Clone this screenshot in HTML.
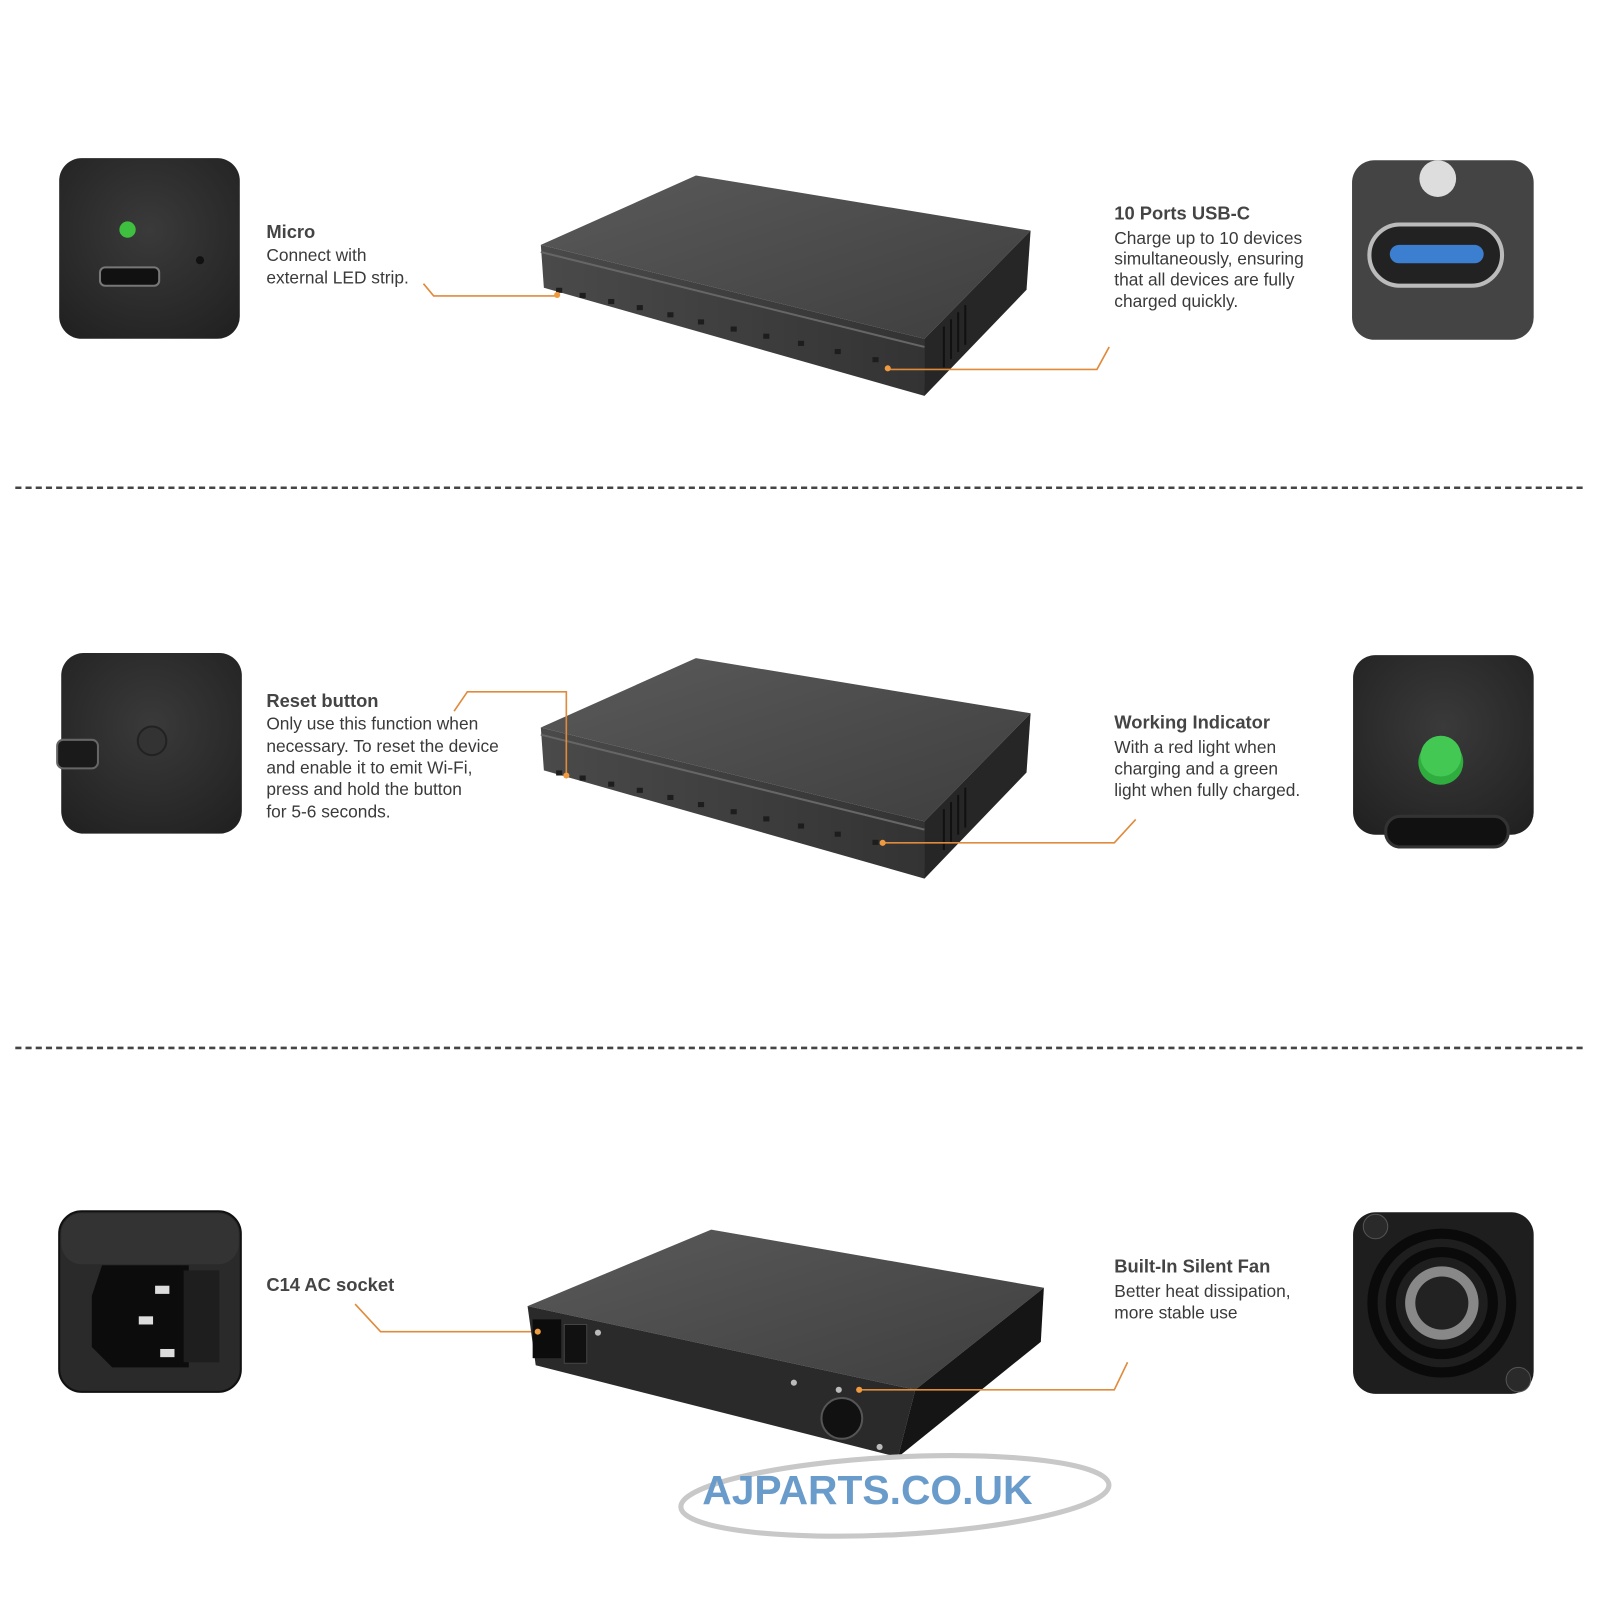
<!DOCTYPE html>
<html><head><meta charset="utf-8"><style>
html,body{margin:0;padding:0;background:#fff;}
svg{display:block}
text{font-family:"Liberation Sans",sans-serif;fill:#3a3a3a;}
.t{font-size:18px;font-weight:bold;fill:#444}
.b{font-size:17px;}
</style></head><body>
<svg width="1600" height="1600" viewBox="0 0 1568 1568" xmlns="http://www.w3.org/2000/svg">
<defs>
<linearGradient id="top" x1="0" y1="0" x2="1" y2="1"><stop offset="0" stop-color="#5a5a5a"/><stop offset="1" stop-color="#3e3e3e"/></linearGradient>
<linearGradient id="front" x1="0" y1="0" x2="1" y2="0"><stop offset="0" stop-color="#4a4a4a"/><stop offset="1" stop-color="#333"/></linearGradient>
<radialGradient id="th" cx="0.5" cy="0.4" r="0.7"><stop offset="0" stop-color="#3a3a3a"/><stop offset="1" stop-color="#222"/></radialGradient>
<g id="dev">
<polygon points="530,240 682,172 1010,226 906,332" fill="url(#top)"/>
<polygon points="530,240 906,332 906,388 533,282" fill="url(#front)"/>
<polygon points="906,332 1010,226 1006,284 906,388" fill="#262626"/>
<line x1="530" y1="247" x2="906" y2="340" stroke="#666" stroke-width="2"/>
<g fill="#1d1d1d">
<rect x="545" y="282" width="6" height="5"/><rect x="568" y="287" width="6" height="5"/><rect x="596" y="293" width="6" height="5"/><rect x="624" y="299" width="6" height="5"/><rect x="654" y="306" width="6" height="5"/><rect x="684" y="313" width="6" height="5"/><rect x="716" y="320" width="6" height="5"/><rect x="748" y="327" width="6" height="5"/><rect x="782" y="334" width="6" height="5"/><rect x="818" y="342" width="6" height="5"/><rect x="855" y="350" width="6" height="5"/>
</g>
<g stroke="#111" stroke-width="2"><line x1="925" y1="320" x2="925" y2="360"/><line x1="932" y1="313" x2="932" y2="352"/><line x1="939" y1="306" x2="939" y2="345"/><line x1="946" y1="299" x2="946" y2="338"/></g>
</g>
</defs>

<!-- Section 1 -->
<rect x="58" y="155" width="177" height="177" rx="22" fill="url(#th)"/>
<circle cx="125" cy="225" r="8" fill="#3fbf3f"/>
<rect x="98" y="262" width="58" height="18" rx="5" fill="#111" stroke="#777" stroke-width="2"/>
<circle cx="196" cy="255" r="4" fill="#111"/>
<text class="t" x="261" y="233">Micro</text>
<text class="b" x="261" y="256">Connect with</text>
<text class="b" x="261" y="278">external LED strip.</text>
<use href="#dev"/>
<polyline points="415,278 425,290 545,290" fill="none" stroke="#e08a3c" stroke-width="1.6"/>
<circle cx="546" cy="289" r="3" fill="#f09a40"/>
<polyline points="870,362 1075,362 1087,340" fill="none" stroke="#e08a3c" stroke-width="1.6"/>
<circle cx="870" cy="361" r="3" fill="#f09a40"/>
<text class="t" x="1092" y="215">10 Ports USB-C</text>
<text class="b" x="1092" y="239">Charge up to 10 devices</text>
<text class="b" x="1092" y="259">simultaneously, ensuring</text>
<text class="b" x="1092" y="280">that all devices are fully</text>
<text class="b" x="1092" y="301">charged quickly.</text>
<rect x="1325" y="157" width="178" height="176" rx="22" fill="#444"/>
<circle cx="1409" cy="175" r="18" fill="#ddd"/>
<rect x="1342" y="220" width="130" height="60" rx="30" fill="#222" stroke="#bbb" stroke-width="4"/>
<rect x="1362" y="240" width="92" height="18" rx="9" fill="#3c7fd0"/>

<line x1="15" y1="478" x2="1553" y2="478" stroke="#444" stroke-width="2.5" stroke-dasharray="6,4"/>

<!-- Section 2 -->
<rect x="60" y="640" width="177" height="177" rx="22" fill="url(#th)"/>
<rect x="56" y="725" width="40" height="28" rx="6" fill="#1a1a1a" stroke="#666" stroke-width="2"/>
<circle cx="149" cy="726" r="14" fill="#333" stroke="#222" stroke-width="2"/>
<text class="t" x="261" y="693">Reset button</text>
<text class="b" x="261" y="715">Only use this function when</text>
<text class="b" x="261" y="737">necessary. To reset the device</text>
<text class="b" x="261" y="758">and enable it to emit Wi-Fi,</text>
<text class="b" x="261" y="779">press and hold the button</text>
<text class="b" x="261" y="801">for 5-6 seconds.</text>
<use href="#dev" transform="translate(0,473)"/>
<polyline points="445,697 458,678 555,678 555,760" fill="none" stroke="#e08a3c" stroke-width="1.6"/>
<circle cx="555" cy="760" r="3" fill="#f09a40"/>
<polyline points="865,826 1092,826 1113,803" fill="none" stroke="#e08a3c" stroke-width="1.6"/>
<circle cx="865" cy="826" r="3" fill="#f09a40"/>
<text class="t" x="1092" y="714">Working Indicator</text>
<text class="b" x="1092" y="738">With a red light when</text>
<text class="b" x="1092" y="759">charging and a green</text>
<text class="b" x="1092" y="780">light when fully charged.</text>
<rect x="1326" y="642" width="177" height="176" rx="22" fill="url(#th)"/>
<circle cx="1412" cy="747" r="22" fill="#2fae3f"/>
<circle cx="1412" cy="741" r="20" fill="#42c853"/>
<rect x="1358" y="800" width="120" height="30" rx="14" fill="#111" stroke="#333" stroke-width="3"/>

<line x1="15" y1="1027" x2="1553" y2="1027" stroke="#444" stroke-width="2.5" stroke-dasharray="6,4"/>

<!-- Section 3 -->
<rect x="58" y="1187" width="178" height="177" rx="22" fill="#2a2a2a" stroke="#111" stroke-width="2"/>
<rect x="60" y="1189" width="174" height="50" rx="20" fill="#333"/>
<polygon points="90,1270 100,1240 185,1240 185,1340 110,1340 90,1320" fill="#0c0c0c"/>
<rect x="152" y="1260" width="14" height="8" fill="#ddd"/>
<rect x="136" y="1290" width="14" height="8" fill="#ddd"/>
<rect x="157" y="1322" width="14" height="8" fill="#ddd"/>
<rect x="180" y="1245" width="35" height="90" fill="#1e1e1e"/>
<text class="t" x="261" y="1265">C14 AC socket</text>
<polyline points="348,1278 373,1305 527,1305" fill="none" stroke="#e08a3c" stroke-width="1.6"/>
<polygon points="517,1280 697,1205 1023,1262 897,1362" fill="url(#top)"/>
<polygon points="517,1280 897,1362 880,1428 525,1338" fill="#2a2a2a"/>
<polygon points="897,1362 1023,1262 1020,1315 880,1428" fill="#151515"/>
<rect x="522" y="1293" width="28" height="38" fill="#0c0c0c"/>
<rect x="553" y="1298" width="22" height="38" fill="#111" stroke="#444"/>
<circle cx="825" cy="1390" r="20" fill="#111" stroke="#555" stroke-width="2"/>
<circle cx="586" cy="1306" r="3" fill="#bbb"/><circle cx="778" cy="1355" r="3" fill="#bbb"/><circle cx="822" cy="1362" r="3" fill="#bbb"/><circle cx="862" cy="1418" r="3" fill="#bbb"/>
<circle cx="527" cy="1305" r="3" fill="#f09a40"/>
<polyline points="842,1362 1092,1362 1105,1335" fill="none" stroke="#e08a3c" stroke-width="1.6"/>
<circle cx="842" cy="1362" r="3" fill="#f09a40"/>
<text class="t" x="1092" y="1247">Built-In Silent Fan</text>
<text class="b" x="1092" y="1271">Better heat dissipation,</text>
<text class="b" x="1092" y="1292">more stable use</text>
<rect x="1326" y="1188" width="177" height="178" rx="22" fill="#1e1e1e"/>
<circle cx="1413" cy="1277" r="68" fill="none" stroke="#0a0a0a" stroke-width="10"/>
<circle cx="1413" cy="1277" r="50" fill="none" stroke="#0a0a0a" stroke-width="10"/>
<circle cx="1413" cy="1277" r="36" fill="#888"/>
<circle cx="1413" cy="1277" r="26" fill="#222"/>
<circle cx="1348" cy="1202" r="12" fill="#2a2a2a" stroke="#555"/>
<circle cx="1488" cy="1352" r="12" fill="#2a2a2a" stroke="#555"/>

<!-- logo -->
<ellipse cx="877" cy="1466" rx="210" ry="38" fill="none" stroke="#c8c8c8" stroke-width="5" transform="rotate(-3 877 1466)"/>
<text x="850" y="1474" text-anchor="middle" style="font-size:40px;font-weight:bold;fill:#6a9ccb;font-family:'Liberation Sans',sans-serif">AJPARTS.CO.UK</text>
</svg>
</body></html>
